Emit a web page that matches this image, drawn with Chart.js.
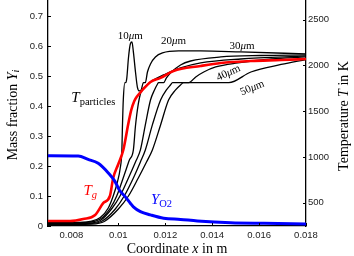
<!DOCTYPE html>
<html><head><meta charset="utf-8">
<script src="https://cdn.jsdelivr.net/npm/chart.js@4/dist/chart.umd.min.js"></script>
<style>html,body{margin:0;padding:0;background:#fff}#wrap{width:354px;height:256px}</style>
</head><body><div id="wrap"><canvas id="c" width="354" height="256"></canvas></div>
<script>
// ---- axis ticks ----
const xTicks = [0.008, 0.010, 0.012, 0.014, 0.016, 0.018];
const xTickLabels = ['0.008', '0.01', '0.012', '0.014', '0.016', '0.018'];
const yLeftTicks = [0, 0.1, 0.2, 0.3, 0.4, 0.5, 0.6, 0.7];
const yLeftTickLabels = ['0', '0.1', '0.2', '0.3', '0.4', '0.5', '0.6', '0.7'];
const yRightTicks = [500, 1000, 1500, 2000, 2500];
const yRightTickLabels = ['500', '1000', '1500', '2000', '2500'];

// ---- Y_O2 mass fraction (left axis) ----
const o2X = [0.00700, 0.00829, 0.00871, 0.00914, 0.00957, 0.00986, 0.01004, 0.01029, 0.01051, 0.01064, 0.01094, 0.01137, 0.01193, 0.01265, 0.01337, 0.01479, 0.01621, 0.01800];
const o2Y = [0.234, 0.233, 0.222, 0.209, 0.177, 0.148, 0.120, 0.098, 0.076, 0.064, 0.048, 0.037, 0.026, 0.022, 0.017, 0.011, 0.009, 0.007];

// ---- gas temperature T_g (right axis, K) ----
const tgX = [0.00700, 0.00794, 0.00850, 0.00901, 0.00936, 0.00964, 0.00978, 0.01000, 0.01021, 0.01043, 0.01055, 0.01068, 0.01081, 0.01103, 0.01137, 0.01180, 0.01235, 0.01351, 0.01437, 0.01565, 0.01694, 0.01800];
const tgT = [300, 300, 322, 366, 497, 573, 770, 923, 1075, 1370, 1512, 1610, 1665, 1731, 1818, 1862, 1938, 1993, 2026, 2047, 2058, 2069];

// ---- particle temperatures (right axis, K) ----
const p10X = [0.00700, 0.00837, 0.00880, 0.00923, 0.00957, 0.00978, 0.00996, 0.01008, 0.01015, 0.01017, 0.01021, 0.01028, 0.01032, 0.01036, 0.01043, 0.01051, 0.01058, 0.01064, 0.01073, 0.01081, 0.01090, 0.01103, 0.01137, 0.01201, 0.01265, 0.01351, 0.01522, 0.01800];
const p10T = [285, 285, 295, 338, 442, 573, 726, 879, 1076, 1294, 1621, 1811, 1811, 1860, 2080, 2233, 2255, 2146, 1927, 1763, 1720, 1742, 1818, 1905, 1971, 2026, 2069, 2102];

const p20X = [0.00700, 0.00858, 0.00923, 0.00966, 0.00993, 0.01025, 0.01047, 0.01064, 0.01073, 0.01085, 0.01098, 0.01107, 0.01115, 0.01124, 0.01137, 0.01158, 0.01188, 0.01257, 0.01351, 0.01522, 0.01800];
const p20T = [278, 285, 322, 442, 573, 803, 966, 1076, 1340, 1580, 1731, 1811, 1811, 1927, 2015, 2091, 2135, 2157, 2157, 2146, 2124];

const p30X = [0.00700, 0.00871, 0.00923, 0.00974, 0.01007, 0.01043, 0.01073, 0.01094, 0.01115, 0.01137, 0.01154, 0.01167, 0.01171, 0.01193, 0.01205, 0.01222, 0.01265, 0.01308, 0.01437, 0.01608, 0.01800];
const p30T = [273, 278, 306, 442, 573, 770, 945, 1076, 1349, 1621, 1731, 1796, 1811, 1811, 1862, 1916, 2004, 2047, 2091, 2107, 2113];

const p40X = [0.00700, 0.00880, 0.00931, 0.00987, 0.01025, 0.01064, 0.01094, 0.01115, 0.01145, 0.01180, 0.01205, 0.01222, 0.01231, 0.01300, 0.01330, 0.01364, 0.01415, 0.01509, 0.01651, 0.01800];
const p40T = [267, 273, 300, 431, 573, 770, 945, 1076, 1349, 1621, 1731, 1785, 1811, 1811, 1873, 1927, 1982, 2026, 2069, 2091];

const p50X = [0.00700, 0.00888, 0.00940, 0.01000, 0.01043, 0.01085, 0.01120, 0.01145, 0.01180, 0.01214, 0.01244, 0.01265, 0.01278, 0.01471, 0.01565, 0.01694, 0.01800];
const p50T = [262, 267, 295, 431, 573, 770, 945, 1076, 1349, 1621, 1731, 1785, 1811, 1811, 1927, 2009, 2063];

const sizeLabels = ['10μm', '20μm', '30μm', '40μm', '50μm'];

const pts = (xs, ys) => xs.map((x, i) => ({x: x, y: ys[i]}));

const SERIF = '"Liberation Serif", "Times New Roman", serif';
const SANS = '"Liberation Sans", Arial, sans-serif';

function drawRich(ctx, parts, x, y, rot, color, base) {
  ctx.save();
  ctx.translate(x, y);
  ctx.rotate(rot || 0);
  ctx.fillStyle = color;
  ctx.textBaseline = 'alphabetic';
  ctx.textAlign = 'left';
  let w = 0;
  parts.forEach(p => { ctx.font = p.f; p.w = ctx.measureText(p.t).width; w += p.w; });
  let cx = -w / 2;
  parts.forEach(p => { ctx.font = p.f; ctx.fillText(p.t, cx, (base || 0) + (p.dy || 0)); cx += p.w; });
  ctx.restore();
}

const it = s => 'italic ' + s + 'px ' + SERIF;
const rm = s => s + 'px ' + SERIF;

const decor = {
  id: 'decor',
  afterDraw(chart) {
    const ctx = chart.ctx;
    const sx = chart.scales.x, sl = chart.scales.yL, sr = chart.scales.yR;
    const a = chart.chartArea;
    // inward tick marks
    ctx.save();
    ctx.strokeStyle = '#000';
    ctx.lineWidth = 1;
    ctx.beginPath();
    xTicks.forEach(v => { const p = Math.round(sx.getPixelForValue(v)) + 0.5; ctx.moveTo(p, a.bottom); ctx.lineTo(p, a.bottom - 3); });
    yLeftTicks.forEach(v => { const p = Math.round(sl.getPixelForValue(v)) + 0.5; ctx.moveTo(a.left, p); ctx.lineTo(a.left + 3, p); });
    yRightTicks.forEach(v => { const p = Math.round(sr.getPixelForValue(v)) + 0.5; ctx.moveTo(a.right, p); ctx.lineTo(a.right - 3, p); });
    ctx.stroke();
    ctx.restore();

    // curve labels
    const lab = (parts, xv, tv, rot, color) => drawRich(ctx, parts, sx.getPixelForValue(xv), sr.getPixelForValue(tv), rot, color, 4);
    const um = (n) => [{t: n, f: rm(11)}, {t: 'μ', f: it(11)}, {t: 'm', f: rm(11)}];
    lab(um('10'), 0.01051, 2331, 0, '#000');
    lab(um('20'), 0.01235, 2277, 0, '#000');
    lab(um('30'), 0.01527, 2222, 0, '#000');
    lab(um('40'), 0.01467, 1927, -25 * Math.PI / 180, '#000');
    lab(um('50'), 0.01569, 1763, -22 * Math.PI / 180, '#000');
    lab([{t: 'T', f: it(15)}, {t: 'particles', f: rm(10.5), dy: 3}], 0.00893, 1643, 0, '#000');
    lab([{t: 'T', f: it(15)}, {t: 'g', f: it(10.5), dy: 3}], 0.00880, 628, 0, '#ff0000');
    lab([{t: 'Y', f: it(15)}, {t: 'O2', f: rm(10.5), dy: 3}], 0.01184, sr.getValueForPixel(sl.getPixelForValue(0.087)), 0, '#0000ff');

    // axis titles
    const cy = (a.top + a.bottom) / 2;
    drawRich(ctx, [{t: 'Mass fraction ', f: rm(14)}, {t: 'Y', f: it(14)}, {t: 'i', f: it(10), dy: 2.5}], a.left - 36, cy + 2, -Math.PI / 2, '#000', 4.5);
    drawRich(ctx, [{t: 'Coordinate ', f: rm(14)}, {t: 'x', f: it(14)}, {t: ' in m', f: rm(14)}], (a.left + a.right) / 2, a.bottom + 22, 0, '#000', 4.5);
    drawRich(ctx, [{t: 'Temperature ', f: rm(14)}, {t: 'T', f: it(14)}, {t: ' in K', f: rm(14)}], a.right + 37, cy + 3, -Math.PI / 2, '#000', 4.5);
  }
};

const blk = (xs, ys, lbl) => ({label: lbl, data: pts(xs, ys), yAxisID: 'yR', borderColor: '#000', borderWidth: 1.3, cubicInterpolationMode: 'monotone', pointRadius: 0, fill: false});

new Chart(document.getElementById('c'), {
  type: 'line',
  data: {
    datasets: [
      {label: 'Y_O2', data: pts(o2X, o2Y), yAxisID: 'yL', borderColor: '#0000ff', borderWidth: 3, cubicInterpolationMode: 'monotone', pointRadius: 0, fill: false},
      {label: 'T_g', data: pts(tgX, tgT), yAxisID: 'yR', borderColor: '#ff0000', borderWidth: 2.6, cubicInterpolationMode: 'monotone', pointRadius: 0, fill: false},
      blk(p10X, p10T, sizeLabels[0]),
      blk(p20X, p20T, sizeLabels[1]),
      blk(p30X, p30T, sizeLabels[2]),
      blk(p40X, p40T, sizeLabels[3]),
      blk(p50X, p50T, sizeLabels[4])
    ]
  },
  options: {
    responsive: false,
    animation: false,
    layout: {padding: 0},
    plugins: {legend: {display: false}, tooltip: {enabled: false}},
    elements: {point: {radius: 0}, line: {capBezierPoints: true}},
    scales: {
      x: {
        type: 'linear', position: 'bottom', min: 0.007, max: 0.018,
        afterBuildTicks: s => { s.ticks = xTicks.map(v => ({value: v})); },
        afterFit: s => { s.height = 30; s.paddingLeft = 0; s.paddingRight = 0; },
        ticks: {callback: (v, i) => xTickLabels[i], font: {family: SANS, size: 9.5}, color: '#222', padding: 4, maxRotation: 0, autoSkip: false},
        grid: {display: false, drawTicks: false},
        border: {display: true, color: '#000', width: 1.3}
      },
      yL: {
        type: 'linear', position: 'left', min: 0, max: 0.7533,
        afterBuildTicks: s => { s.ticks = yLeftTicks.map(v => ({value: v})); },
        afterFit: s => { s.width = 48; s.paddingTop = 0; s.paddingBottom = 0; },
        ticks: {callback: (v, i) => yLeftTickLabels[i], font: {family: SANS, size: 9.5}, color: '#222', padding: 5, autoSkip: false},
        grid: {display: false, drawTicks: false},
        border: {display: true, color: '#000', width: 1.3}
      },
      yR: {
        type: 'linear', position: 'right', min: 245.6, max: 2713,
        afterBuildTicks: s => { s.ticks = yRightTicks.map(v => ({value: v})); },
        afterFit: s => { s.width = 48; s.paddingTop = 0; s.paddingBottom = 0; },
        ticks: {callback: (v, i) => yRightTickLabels[i], font: {family: SANS, size: 9.5}, color: '#222', padding: 2, autoSkip: false},
        grid: {display: false, drawTicks: false},
        border: {display: true, color: '#000', width: 1.3}
      }
    }
  },
  plugins: [decor]
});
</script>
</body></html>
